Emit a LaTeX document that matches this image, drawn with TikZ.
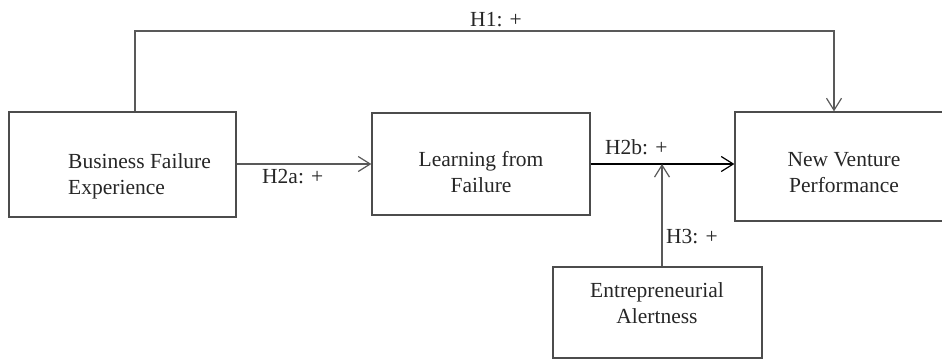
\documentclass[tikz,border=0pt]{standalone}
\usepackage{fontspec}
\setmainfont{Liberation Serif}
\usetikzlibrary{arrows.meta}
\begin{document}
\begin{tikzpicture}[x=1pt,y=-1pt,
  box/.style={draw=black!70,line width=1.3pt,minimum width=#1,inner sep=0pt,rectangle},
  txt/.style={inner sep=0pt,font=\fontsize{21.5}{26}\selectfont,text=black!85},
  lbl/.style={inner sep=0pt,font=\fontsize{21.5}{26}\selectfont,text=black!85},
  conn/.style={draw=black!65,line width=1.3pt},
  arr/.style={conn,-{Straight Barb[length=12pt,width=15pt,line width=1.2pt]}}]
\useasboundingbox (0,0) rectangle (942,359);
% boxes
\node[box=227pt,minimum height=105pt] (a) at (122.5,164.5) {};
\node[box=218pt,minimum height=102pt] (b) at (481,164) {};
\node[box=218pt,minimum height=109pt] (c) at (844,166.5) {};
\node[box=209pt,minimum height=91pt] (d) at (657.5,312.5) {};
% texts
\node[txt,align=left,anchor=west] (at) at (68,176) {Business Failure\\Experience};
\node[txt,align=center] (bt) at (481,172) {Learning from\\Failure};
\node[txt,align=center] (ct) at (844,173) {New Venture\\Performance};
\node[txt,align=center] (dt) at (657,303) {Entrepreneurial\\Alertness};
% helper coordinates
\coordinate (x1) at (135,0);
\coordinate (x2) at (834,0);
\coordinate (x3) at (662,0);
\coordinate (top) at (0,31);
% connectors
\draw[arr] (a.north -| x1) -- (x1 |- top) -| (c.north -| x2);
\draw[arr] (a.east |- b.west) -- (b.west);
\draw[conn,draw=black,line width=2.4pt,-{Straight Barb[length=12pt,width=15pt,line width=1.2pt]}] (b.east) -- (c.west |- b.east);
\draw[arr] (d.north -| x3) -- (x3 |- b.east);
% labels
\node[lbl,anchor=base] (h1) at (496,26) {H1: +};
\node[lbl,anchor=base west] (h2a) at (262,183) {H2a: +};
\node[lbl,anchor=base west] (h2b) at (605,154) {H2b: +};
\node[lbl,anchor=base west] (h3) at (666,243) {H3: +};
\end{tikzpicture}
\end{document}
